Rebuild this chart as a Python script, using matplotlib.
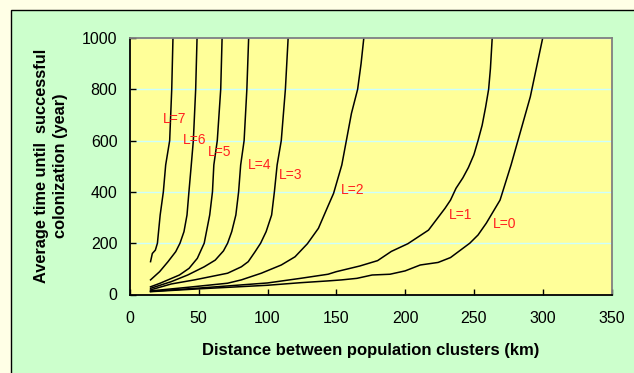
import numpy as np
import matplotlib.pyplot as plt
from matplotlib.patches import Rectangle

plt.rcParams['font.family'] = ['Liberation Sans', 'DejaVu Sans']

# distance (km) vs average time until successful colonization (year), one curve per L
x_L0 = [15, 50, 100, 124, 144, 154, 165, 176, 189, 200, 211, 224, 233, 247, 253, 259, 264, 269, 277, 282, 291, 300]
y_L0 = [11, 22, 36, 46, 53, 57, 63, 76, 79, 92, 115, 125, 144, 200, 232, 278, 323, 368, 505, 600, 771, 1000]
x_L1 = [15, 50, 100, 124, 144, 150, 167, 180, 190, 202, 217, 229, 233, 237, 242, 246, 250, 253, 256, 258.5, 260.7, 262, 263.3]
y_L1 = [12, 25, 45, 63, 79, 89, 111, 132, 168, 198, 251, 336, 368, 414, 455, 495, 545, 600, 660, 730, 800, 880, 1000]
x_L2 = [15, 42, 71, 81, 95.5, 110, 120, 129, 137, 144, 148, 154, 161, 165.5, 168, 170]
y_L2 = [14, 28, 44, 57, 83, 115, 147, 198, 258, 345, 394, 505, 706, 800, 900, 1000]
x_L3 = [15, 30, 47, 71, 81, 86, 91, 95, 99, 103, 105, 107, 110, 113, 115]
y_L3 = [18, 41, 57, 83, 108, 128, 167, 200, 245, 310, 400, 505, 600, 800, 1000]
x_L4 = [15, 30, 42, 54, 62, 68, 71, 74, 77, 79, 80.5, 83, 85, 86.3]
y_L4 = [24, 50, 76, 108, 134, 170, 200, 245, 310, 400, 505, 600, 800, 1000]
x_L5 = [15, 22, 36, 43, 49, 54, 58, 60, 61, 63.5, 66, 67]
y_L5 = [30, 44, 76, 102, 141, 200, 310, 400, 505, 600, 800, 1000]
x_L6 = [15, 21.6, 27.7, 33.3, 36.4, 39.3, 41.5, 42.9, 44.6, 46.1, 47.8, 48.8]
y_L6 = [57, 89, 128, 167, 200, 245, 310, 400, 505, 600, 800, 1000]
x_L7 = [15, 16.3, 18.5, 20, 22, 24.3, 26, 28.9, 30.4, 31.3]
y_L7 = [128, 160, 173, 200, 310, 400, 505, 600, 800, 1000]

curves = [(x_L0, y_L0), (x_L1, y_L1), (x_L2, y_L2), (x_L3, y_L3),
          (x_L4, y_L4), (x_L5, y_L5), (x_L6, y_L6), (x_L7, y_L7)]

labels = ['L=0', 'L=1', 'L=2', 'L=3', 'L=4', 'L=5', 'L=6', 'L=7']
label_x = [264, 232, 153, 108.6, 86, 57, 38.8, 23.8]
label_y = [274, 310, 409, 467, 505, 557, 603, 685]

fig = plt.figure(figsize=(6.34, 3.73), dpi=100, facecolor='#FFFFE6')
fig.patches.append(Rectangle((11/634, -0.05), 1.0, 1 - 9.5/373 + 0.05,
                             transform=fig.transFigure, facecolor='#CCFFCC',
                             edgecolor='black', linewidth=1, zorder=-10))

ax = fig.add_axes([129.9/634, 1 - 294.5/373, 481.6/634, 256.5/373])
ax.set_facecolor('#FFFF99')

for xs, ys in curves:
    ax.plot(xs, ys, color='black', lw=1.1)

for lab, lx, ly in zip(labels, label_x, label_y):
    ax.text(lx, ly, lab, color='#FF2020', fontsize=10, ha='left', va='center')

ax.set_xlim(0, 350)
ax.set_ylim(0, 1000)
ax.set_xticks(np.arange(0, 351, 50))
ax.set_yticks(np.arange(0, 1001, 200))
ax.yaxis.grid(True, color='#CCFFFF', lw=1)
ax.set_axisbelow(True)
ax.tick_params(axis='x', direction='in', length=4, width=1, labelsize=11.5, pad=12)
ax.tick_params(axis='y', direction='in', length=4, width=1, labelsize=11.5, pad=9)
ax.spines['left'].set_color('black')
ax.spines['bottom'].set_color('black')
ax.spines['top'].set_color('#808080')
ax.spines['right'].set_color('#808080')
for s in ax.spines.values():
    s.set_linewidth(1.3)

fig.text(370.7/634, 1 - 351/373, 'Distance between population clusters (km)',
         fontsize=12, fontweight='bold', ha='center', va='center')
fig.text(51.4/634, 1 - 166/373, 'Average time until  successful\ncolonization (year)',
         fontsize=11.8, fontweight='bold', rotation=90, ha='center', va='center',
         multialignment='center', linespacing=1.35)

plt.savefig('out.png', dpi=100, facecolor=fig.get_facecolor())
